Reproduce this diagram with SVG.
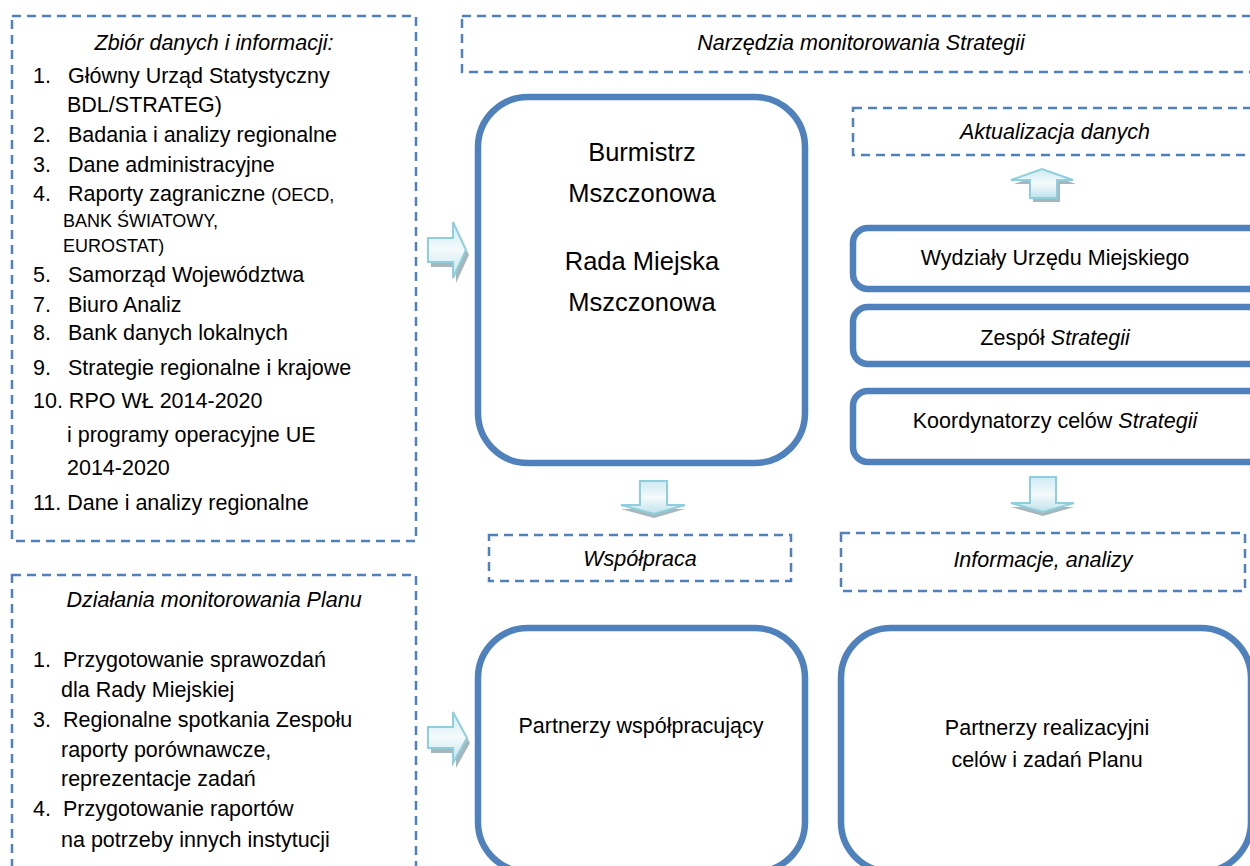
<svg xmlns="http://www.w3.org/2000/svg" width="1250" height="866" viewBox="0 0 1250 866">
<style>
.dash{fill:none;stroke:#4F81BD;stroke-width:2.5;stroke-dasharray:9 6}
.solid{fill:#fff;stroke:#4F81BD;stroke-width:6.5}
.t{font-family:"Liberation Sans",Arial,sans-serif;font-size:21.5px;fill:#000}
.big{font-size:25.5px}
.sm{font-size:18px}
.i{font-style:italic}
.c{text-anchor:middle}
.arr{fill:url(#ag);stroke:#8DCFDC;stroke-width:2}
.sh{fill:#98A9B1;opacity:0.85}
</style>
<defs>
<linearGradient id="ag" x1="0" y1="0" x2="0" y2="1">
<stop offset="0" stop-color="#CDEBF2"/>
<stop offset="0.5" stop-color="#F4FAFC"/>
<stop offset="1" stop-color="#BFE2EA"/>
</linearGradient>
</defs>
<rect width="1250" height="866" fill="#fff"/>

<g id="zbior">
<rect class="dash" x="12" y="16" width="404" height="525"/>
<text class="t i c" x="214" y="50">Zbiór danych i informacji:</text>
<text class="t" x="33" y="83">1.</text><text class="t" x="68" y="83">Główny Urząd Statystyczny</text>
<text class="t" x="67" y="112">BDL/STRATEG)</text>
<text class="t" x="33" y="142">2.</text><text class="t" x="68" y="142">Badania i analizy regionalne</text>
<text class="t" x="33" y="172">3.</text><text class="t" x="68" y="172">Dane administracyjne</text>
<text class="t" x="33" y="201">4.</text><text class="t" x="68" y="201">Raporty zagraniczne <tspan class="sm">(OECD,</tspan></text>
<text class="t sm" x="63" y="227">BANK ŚWIATOWY,</text>
<text class="t sm" x="63" y="252">EUROSTAT)</text>
<text class="t" x="33" y="282">5.</text><text class="t" x="68" y="282">Samorząd Województwa</text>
<text class="t" x="33" y="312">7.</text><text class="t" x="68" y="312">Biuro Analiz</text>
<text class="t" x="33" y="340">8.</text><text class="t" x="68" y="340">Bank danych lokalnych</text>
<text class="t" x="33" y="375">9.</text><text class="t" x="68" y="375">Strategie regionalne i krajowe</text>
<text class="t" x="33" y="408">10. RPO WŁ 2014-2020</text>
<text class="t" x="67" y="442">i programy operacyjne UE</text>
<text class="t" x="67" y="475">2014-2020</text>
<text class="t" x="33" y="510">11. Dane i analizy regionalne</text>
</g>

<g id="dzialania">
<rect class="dash" x="12" y="575" width="404" height="320"/>
<text class="t i c" x="214" y="607">Działania monitorowania Planu</text>
<text class="t" x="33" y="667">1.</text><text class="t" x="63" y="667">Przygotowanie sprawozdań</text>
<text class="t" x="61" y="697">dla Rady Miejskiej</text>
<text class="t" x="33" y="727">3.</text><text class="t" x="63" y="727">Regionalne spotkania Zespołu</text>
<text class="t" x="61" y="757">raporty porównawcze,</text>
<text class="t" x="61" y="786">reprezentacje zadań</text>
<text class="t" x="33" y="816">4.</text><text class="t" x="63" y="816">Przygotowanie raportów</text>
<text class="t" x="61" y="847">na potrzeby innych instytucji</text>
</g>

<g id="narzedzia">
<rect class="dash" x="462" y="16" width="820" height="56"/>
<text class="t i c" x="861" y="50">Narzędzia monitorowania Strategii</text>
</g>

<g id="burmistrz">
<rect class="solid" x="478" y="97" width="327" height="366" rx="50"/>
<text class="t big c" x="642" y="161">Burmistrz</text>
<text class="t big c" x="642" y="202">Mszczonowa</text>
<text class="t big c" x="642" y="270">Rada Miejska</text>
<text class="t big c" x="642" y="311">Mszczonowa</text>
</g>

<g id="aktualizacja">
<rect class="dash" x="853" y="108" width="420" height="47"/>
<text class="t i c" x="1055" y="139">Aktualizacja danych</text>
</g>

<g id="wydzialy">
<rect class="solid" x="853" y="228" width="420" height="61" rx="15"/>
<text class="t c" x="1055" y="265">Wydziały Urzędu Miejskiego</text>
</g>

<g id="zespol">
<rect class="solid" x="853" y="307" width="420" height="57" rx="15"/>
<text class="t c" x="1055" y="345">Zespół <tspan class="i">Strategii</tspan></text>
</g>

<g id="koordynatorzy">
<rect class="solid" x="853" y="391" width="420" height="71" rx="15"/>
<text class="t c" x="1055" y="428">Koordynatorzy celów <tspan class="i">Strategii</tspan></text>
</g>

<g id="wspolpraca">
<rect class="dash" x="489" y="535" width="302" height="46"/>
<text class="t i c" x="640" y="566">Współpraca</text>
</g>

<g id="informacje">
<rect class="dash" x="841" y="533" width="404" height="58"/>
<text class="t i c" x="1043" y="567">Informacje, analizy</text>
</g>

<g id="partnerzy-wsp">
<rect class="solid" x="478" y="628" width="327" height="244" rx="50"/>
<text class="t c" x="641" y="733">Partnerzy współpracujący</text>
</g>

<g id="partnerzy-real">
<rect class="solid" x="841" y="628" width="410" height="244" rx="50"/>
<text class="t c" x="1047" y="735">Partnerzy realizacyjni</text>
<text class="t c" x="1047" y="767">celów i zadań Planu</text>
</g>

<g id="connectors">
<path class="sh" d="M431,243 H456 V227 L469,255 L456,283 V267 H431 Z"/>
<path class="arr" d="M428,238 H453 V222 L466,250 L453,278 V262 H428 Z"/>
<path class="sh" d="M431,732 H456 V717 L470,743 L456,768 V753 H431 Z"/>
<path class="arr" d="M428,727 H453 V712 L467,738 L453,763 V748 H428 Z"/>
<path class="sh" d="M1033,202 V184 H1014 L1045,173 L1076,184 H1060 V202 Z"/>
<path class="arr" d="M1030,198 V180 H1011 L1042,169 L1073,180 H1057 V198 Z"/>
<path class="sh" d="M640,485 H667 V509 H685 L654,518 L621,509 H640 Z"/>
<path class="arr" d="M640,481 H667 V505 H685 L654,514 L621,505 H640 Z"/>
<path class="sh" d="M1030,481 H1056 V507 H1074 L1043,516 L1011,507 H1030 Z"/>
<path class="arr" d="M1030,477 H1056 V503 H1074 L1043,512 L1011,503 H1030 Z"/>
</g>
</svg>
